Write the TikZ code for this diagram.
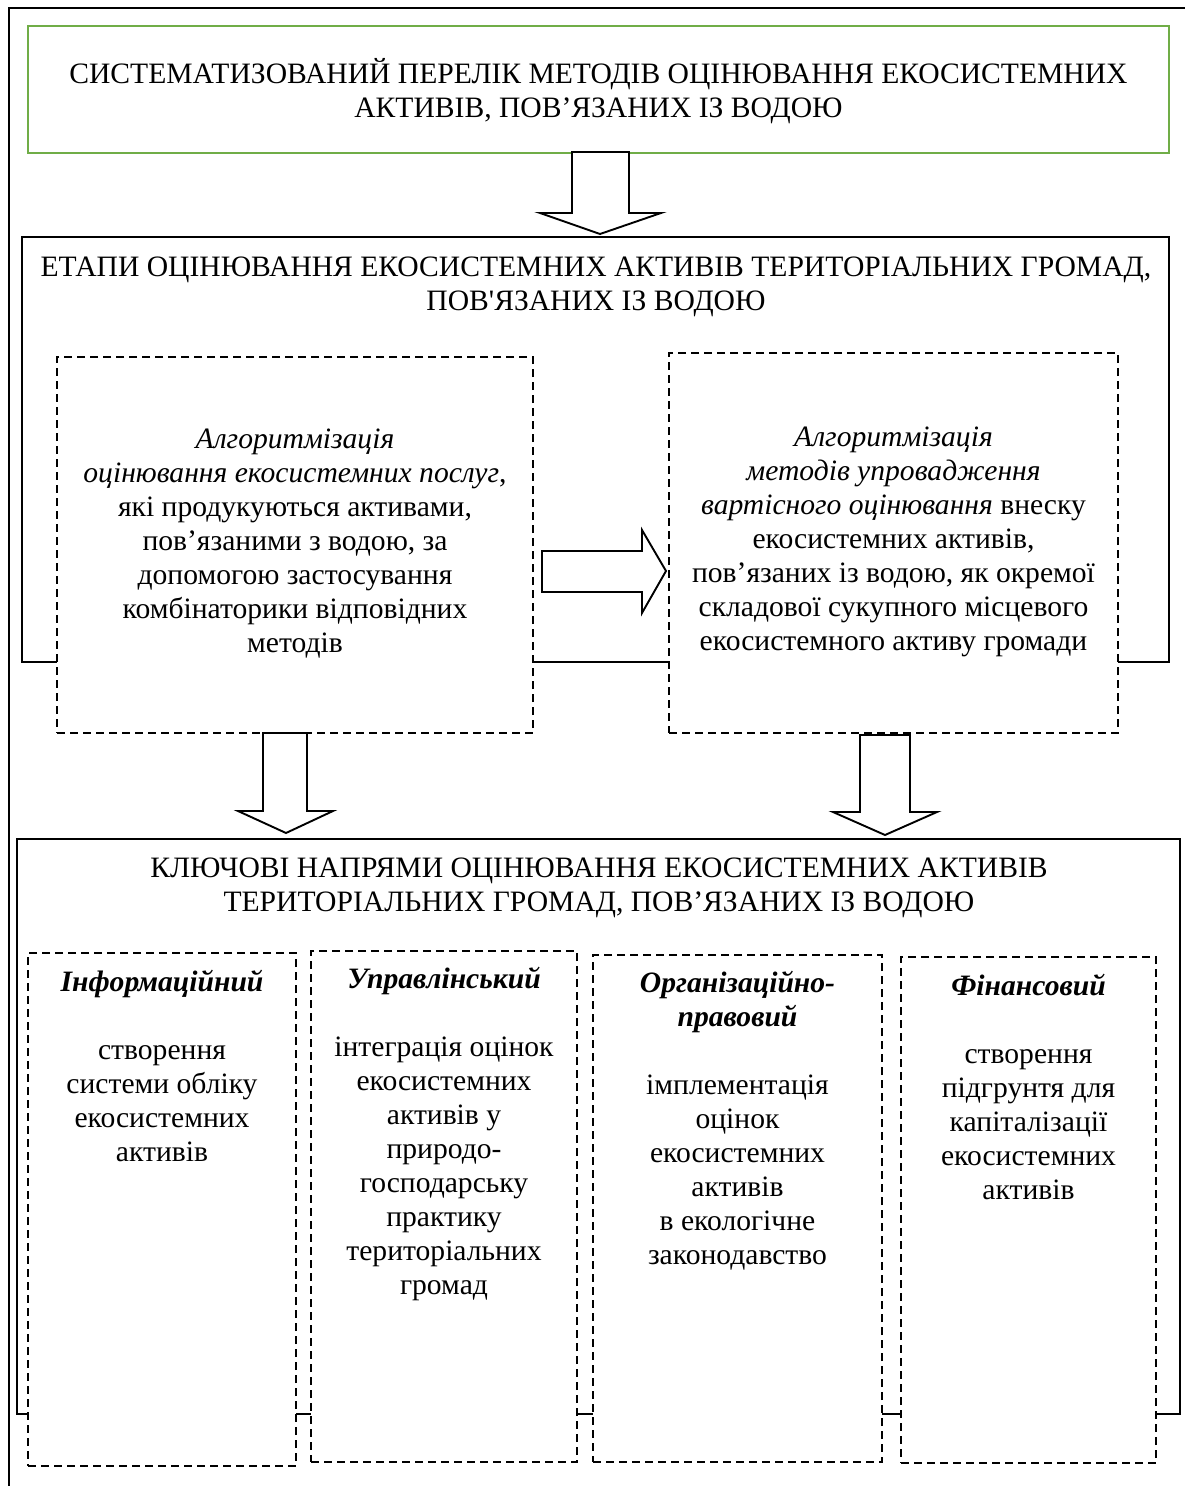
\documentclass[tikz,border=0pt]{standalone}
\usepackage{fontspec}
\setmainfont{Liberation Serif}[Ligatures=TeXOff]
\begin{document}
\begin{tikzpicture}[x=1pt,y=-1pt,
  solidbox/.style={draw, line width=1.6pt, inner sep=0pt, outer sep=0pt},
  greenbox/.style={draw=frgreen, line width=2.6pt, inner sep=0pt, outer sep=0pt},
  dashbox/.style={draw, fill=white, dash pattern=on 8pt off 5pt, line width=1.7pt, inner sep=0pt, outer sep=0pt},
  txt/.style={align=center, font=\fontsize{29.6}{34}\selectfont, inner sep=0pt},
  blockarrow/.style={draw, fill=white, line width=1.9pt, line join=miter}]
\definecolor{frgreen}{RGB}{112,173,71}
\useasboundingbox (0,0) rectangle (1185,1486);
% outer frame (only top and left edges visible)
\draw[line width=1.6pt] (9,1486) -- (9,8) -- (1185,8);

% top box
\node[greenbox, minimum width=1141pt, minimum height=127pt] (top) at (598.5,89.5) {};
\node[txt] (toptxt) at (598.5,91.5) {СИСТЕМАТИЗОВАНИЙ ПЕРЕЛІК МЕТОДІВ ОЦІНЮВАННЯ ЕКОСИСТЕМНИХ\\АКТИВІВ, ПОВ’ЯЗАНИХ ІЗ ВОДОЮ};

% stages box
\node[solidbox, minimum width=1147pt, minimum height=425pt] (stages) at (595.5,449.5) {};
\node[txt] (stagestxt) at (596,286.5) {ЕТАПИ ОЦІНЮВАННЯ ЕКОСИСТЕМНИХ АКТИВІВ ТЕРИТОРІАЛЬНИХ ГРОМАД,\\ПОВ'ЯЗАНИХ ІЗ ВОДОЮ};

% key directions box
\node[solidbox, minimum width=1163pt, minimum height=575pt] (keys) at (598.5,1126.5) {};
\node[txt] (keystxt) at (599,887.5) {КЛЮЧОВІ НАПРЯМИ ОЦІНЮВАННЯ ЕКОСИСТЕМНИХ АКТИВІВ\\ТЕРИТОРІАЛЬНИХ ГРОМАД, ПОВ’ЯЗАНИХ ІЗ ВОДОЮ};

% stage boxes
\node[dashbox, minimum width=476pt, minimum height=376pt] (left) at (295,545) {};
\node[txt] (lefttxt) at (295,544) {\textit{Алгоритмізація}\\\textit{оцінювання екосистемних послуг},\\які продукуються активами,\\пов’язаними з водою, за\\допомогою застосування\\комбінаторики відповідних\\методів};
\node[dashbox, minimum width=449pt, minimum height=380pt] (right) at (893.5,543) {};
\node[txt] (righttxt) at (893.5,541.5) {\textit{Алгоритмізація}\\\textit{методів упровадження}\\\textit{вартісного оцінювання} внеску\\екосистемних активів,\\пов’язаних із водою, як окремої\\складової сукупного місцевого\\екосистемного активу громади};

% direction boxes
\node[dashbox, minimum width=268pt, minimum height=513pt] (b1) at (162,1209.5) {};
\node[dashbox, minimum width=266pt, minimum height=511pt] (b2) at (444,1206.5) {};
\node[dashbox, minimum width=289pt, minimum height=507pt] (b3) at (737.5,1208.5) {};
\node[dashbox, minimum width=255pt, minimum height=506pt] (b4) at (1028.5,1210) {};
\node[txt] (b1txt) at (162,1066) {\textbf{\textit{Інформаційний}}\\\mbox{}\\створення\\системи обліку\\екосистемних\\активів};
\node[txt] (b2txt) at (444,1134) {\textbf{\textit{Управлінський}}\\\mbox{}\\інтеграція оцінок\\екосистемних\\активів у\\природо-\\господарську\\практику\\територіальних\\громад};
\node[txt] (b3txt) at (737.5,1120.5) {\textbf{\textit{Організаційно-}}\\\textbf{\textit{правовий}}\\\mbox{}\\імплементація\\оцінок\\екосистемних\\активів\\в екологічне\\законодавство};
\node[txt] (b4txt) at (1028.5,1086.5) {\textbf{\textit{Фінансовий}}\\\mbox{}\\створення\\підгрунтя для\\капіталізації\\екосистемних\\активів};

% block arrows
\draw[blockarrow] (572,152) -- (629,152) -- (629,213) -- (661,213) -- (600,234) -- (540,213) -- (572,213) -- cycle;
\draw[blockarrow] (542,551) -- (642,551) -- (642,530) -- (666,571) -- (642,613) -- (642,592) -- (542,592) -- cycle;
\draw[blockarrow] (263,733) -- (307,733) -- (307,811) -- (333,811) -- (286,833) -- (238,811) -- (263,811) -- cycle;
\draw[blockarrow] (860,735) -- (910,735) -- (910,812) -- (937,812) -- (885,835) -- (833,812) -- (860,812) -- cycle;
\end{tikzpicture}
\end{document}
